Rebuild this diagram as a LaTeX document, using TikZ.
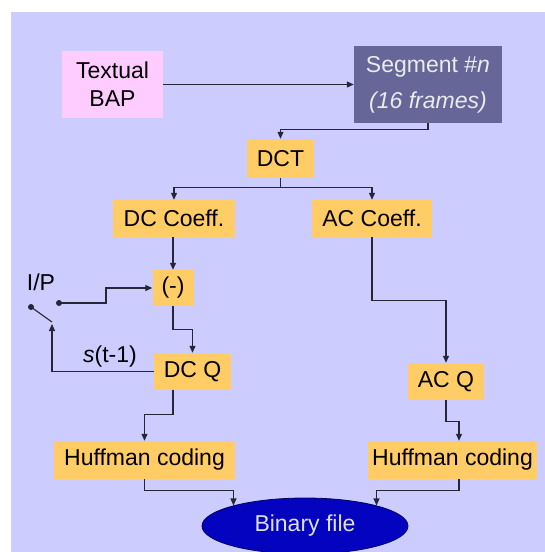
\documentclass[tikz,border=0pt]{standalone}
\usepackage{fontspec}
\setmainfont{Liberation Sans}
\usetikzlibrary{arrows.meta,shapes.geometric}
\definecolor{bgc}{HTML}{CCCCFF}
\definecolor{orangec}{HTML}{FFCC66}
\definecolor{pinkc}{HTML}{FFCCFF}
\definecolor{segc}{HTML}{666699}
\definecolor{binc}{HTML}{0404C0}
\definecolor{linec}{HTML}{262636}
\tikzset{
  box/.style={rectangle, inner sep=0pt, align=center, text=black,
    font=\fontsize{23}{28}\selectfont},
  obox/.style={box, fill=orangec},
  txt/.style={inner sep=0pt, text=black, font=\fontsize{23}{28}\selectfont},
  ln/.style={draw=linec, line width=1.1pt},
  arr/.style={ln, -{Triangle[length=7pt,width=6pt]}},
}
\begin{document}
\begin{tikzpicture}[x=1pt,y=-1pt]
\useasboundingbox (0,0) rectangle (545,552);
\fill[bgc] (11,12) rectangle (545,552);

\node[box, fill=pinkc, minimum width=101pt, minimum height=67pt] (bap) at (112.5,84.5) {Textual\\BAP};
\node[box, fill=segc, text=black!8, minimum width=148pt, minimum height=77pt,
  font=\fontsize{23}{36}\selectfont] (seg) at (428,84.5) {Segment \#\textit{n}\\\textit{(16 frames)}};
\node[obox, minimum width=67pt, minimum height=39pt] (dct) at (280.5,158.5) {DCT};
\node[obox, minimum width=122pt, minimum height=37pt] (dcc) at (174,218.5) {DC Coeff.};
\node[obox, minimum width=120pt, minimum height=37pt] (acc) at (372,218.5) {AC Coeff.};
\node[obox, minimum width=41pt, minimum height=36pt] (minus) at (173,288) {(-)};
\node[obox, minimum width=77pt, minimum height=37pt] (dcq) at (192.5,371.5) {DC Q};
\node[obox, minimum width=76pt, minimum height=37pt] (acq) at (446,381.5) {AC Q};
\node[obox, minimum width=181pt, minimum height=38pt] (huf1) at (144.5,460) {Huffman coding};
\node[obox, minimum width=169pt, minimum height=38pt] (huf2) at (452.5,460) {Huffman coding};
\node[ellipse, fill=binc, draw=binc!50!black, line width=0.8pt, inner sep=0pt,
  minimum width=206pt, minimum height=56pt, text=black!12,
  font=\fontsize{23}{28}\selectfont] (bin) at (305,526) {Binary file};

\node[txt] (ipl) at (41,282) {I/P};
\node[txt] (sl) at (110,357) {\textit{s}(t-1)};

\coordinate (ip) at (59,303);
\coordinate (swa) at (31,307);
\coordinate (swb) at (52,322);
\fill[linec] (ip) circle (3pt);
\fill[linec] (swa) circle (3pt);
\draw[ln] (swa) -- (swb);

\draw[arr] (bap) -- (seg);
\draw[arr] (seg.south) -- ++(0,6) -| (dct.north);
\draw[ln] (dct.south) -- ++(0,9) coordinate (j1);
\draw[arr] (j1) -| (dcc.north);
\draw[arr] (j1) -| (acc.north);
\draw[arr] (dcc.south -| minus.north) -- (minus.north);
\draw[arr] (ip) -- (106,303) |- (minus.west);
\draw[arr] (dcq.west) -| ([yshift=-2pt]swb);
\draw[arr] (minus.south) -- ++(0,23) -| (dcq.north);
\draw[arr] (acc.south) -- ++(0,63) -| (acq.north);
\draw[arr] ([xshift=-19.5pt]dcq.south) -- ++(0,24.5) -| (huf1.north);
\draw[arr] (acq.south) -- ++(0,21) -| ([xshift=6.5pt]huf2.north);
\draw[arr] (huf1.south) -- ++(0,11) -| (bin.164);
\draw[arr] ([xshift=6.5pt]huf2.south) -- ++(0,11) -| (bin.16);
\end{tikzpicture}
\end{document}
